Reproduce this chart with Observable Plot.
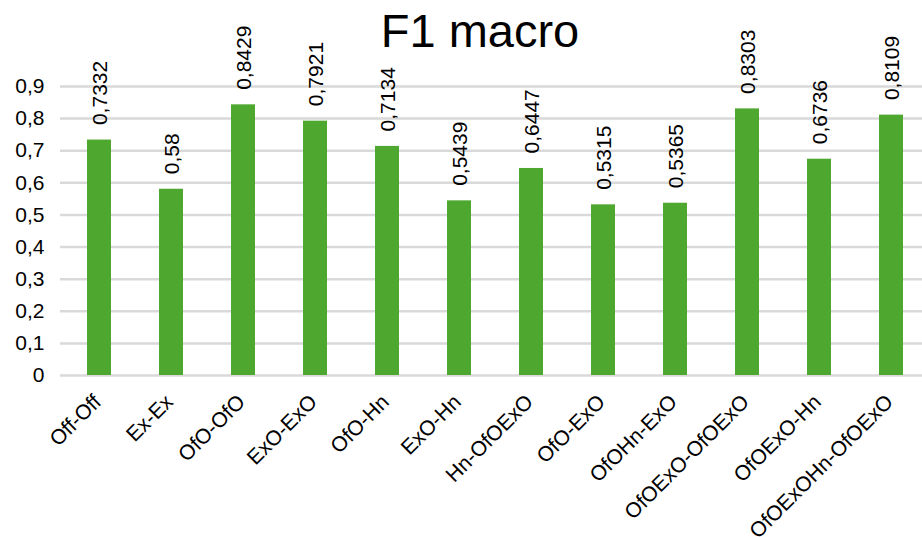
<!DOCTYPE html>
<html>
<head>
<meta charset="utf-8">
<script src="https://cdn.jsdelivr.net/npm/d3@7"></script>
<script src="https://cdn.jsdelivr.net/npm/@observablehq/plot@0.6"></script>
<style>
  html, body { margin: 0; padding: 0; background: #fff; overflow: hidden; }
  #chart svg { overflow: visible; }
</style>
</head>
<body>
<div id="chart"></div>
<script>
const categories = ["Off-Off", "Ex-Ex", "OfO-OfO", "ExO-ExO", "OfO-Hn", "ExO-Hn", "Hn-OfOExO", "OfO-ExO", "OfOHn-ExO", "OfOExO-OfOExO", "OfOExO-Hn", "OfOExOHn-OfOExO"];
const values = [0.7332, 0.58, 0.8429, 0.7921, 0.7134, 0.5439, 0.6447, 0.5315, 0.5365, 0.8303, 0.6736, 0.8109];
const yTicks = [0, 0.1, 0.2, 0.3, 0.4, 0.5, 0.6, 0.7, 0.8, 0.9];
const title = "F1 macro";

const data = categories.map((c, i) => ({category: c, value: values[i]}));
const fmt = d => String(d).replace(".", ",");
const font = "'Liberation Sans', Arial, sans-serif";

const chart = Plot.plot({
  width: 922,
  height: 537,
  marginLeft: 60,
  marginRight: -9,
  marginTop: 86,
  marginBottom: 162,
  style: {fontFamily: font, fontSize: "21px", color: "#000", background: "#fff", overflow: "visible"},
  x: {domain: categories, paddingInner: 0.66, paddingOuter: 0.33, label: null},
  y: {domain: [0, 0.9], label: null},
  marks: [
    Plot.gridY(yTicks, {stroke: "#d9d9d9", strokeOpacity: 1, strokeWidth: 2.5}),
    Plot.barY(data, {x: "category", y: "value", fill: "#4ea72e"}),
    Plot.text(data, {x: "category", y: "value", text: d => fmt(d.value), rotate: -90, textAnchor: "start", lineAnchor: "middle", dx: 1, dy: -15, fontSize: 21, fill: "#000"}),
    Plot.axisY(yTicks, {tickSize: 0, tickPadding: 16, tickFormat: fmt, fontSize: 21, label: null}),
    Plot.axisX({tickSize: 0, tickRotate: -45, tickPadding: 23, dx: -2, textAnchor: "end", fontSize: 21, label: null}),
    Plot.text([title], {frameAnchor: "top", x: null, y: null, dx: -16, dy: -86 + 13, lineAnchor: "top", fontSize: 47, fill: "#000"})
  ]
});
document.getElementById("chart").appendChild(chart);
</script>
</body>
</html>
